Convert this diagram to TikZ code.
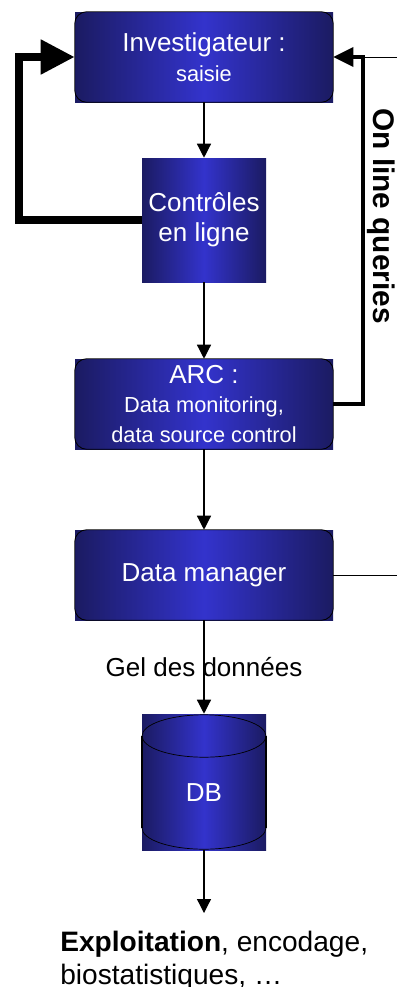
\documentclass[tikz,border=0pt]{standalone}
\usepackage{fontspec}
\setmainfont{Liberation Sans}
\usepackage{xcolor}
\definecolor{navyedge}{HTML}{1B1B62}
\definecolor{navymid}{HTML}{3333CC}
\usetikzlibrary{arrows.meta,positioning,calc}
\newcommand{\subtxt}{\fontsize{15.5}{19.2}\selectfont}

\begin{document}
\begin{tikzpicture}[x=1cm, y=1cm, font=\fontsize{18.5}{21.3}\selectfont,
  bluefill/.style={left color=navyedge, right color=navyedge, middle color=navymid,
    text=white, align=center, inner sep=0pt},
  wide/.style={bluefill, minimum width=6.45cm, minimum height=2.25cm},
  arr/.style={-{Triangle[length=0.35cm, width=0.35cm]}, line width=0.9pt}]
\useasboundingbox (0,0) rectangle (9.925,-24.675);

% boxes
\node[wide] (inv) at (5.1,-1.425) {Investigateur :\\\subtxt saisie};
\node[bluefill, minimum size=3.1cm] (ctl) at (5.1,-5.5) {Contrôles\\en ligne};
\node[wide] (arc) at (5.1,-10.1) {ARC :\\\subtxt Data monitoring,\\\subtxt data source control};
\node[wide] (dm) at (5.1,-14.375) {Data manager};
\node[bluefill, minimum width=3.1cm, minimum height=3.4cm, text height=27.5pt, text depth=0pt]
  (db) at (5.1,-19.55) {DB};
\foreach \n in {inv,arc,dm}
  \draw[line width=0.6pt, rounded corners=0.3cm] (\n.south west) rectangle (\n.north east);

% cylinder
\draw[line width=0.5pt] (5.1,-18.4) ellipse [x radius=1.55, y radius=0.53];
\draw[line width=1.2pt] (3.55,-18.4) -- (3.55,-20.7) (6.65,-18.4) -- (6.65,-20.7);
\draw[line width=0.5pt] (3.55,-20.7) arc[start angle=180, end angle=360, x radius=1.55, y radius=0.53];

% main flow
\coordinate (out) at (5.1,-22.825);
\draw[arr] (inv) -- (ctl);
\draw[arr] (ctl) -- (arc);
\draw[arr] (arc) -- (dm);
\draw[arr] (dm) -- node (gel) {Gel des données} (db);
\draw[arr] (db) -- (out);
\node[anchor=north west, align=left, inner sep=0pt, font=\fontsize{20}{23.4}\selectfont] (expl)
  at (1.5,-23.27) {\textbf{Exploitation}, encodage,\\biostatistiques, …};

% feedback loops
\coordinate (loopL) at (0.475,-1.425);
\draw[line width=0.2cm, -{Triangle[length=0.85cm, width=0.825cm]}] (ctl.west) -| (loopL) -- (inv.west);
\coordinate (qR) at (9.075,-1.425);
\coordinate (qEnd) at (9.925,-1.425);
\coordinate (dmEnd) at (9.925,-14.375);
\draw[line width=2.5pt, -{Triangle[length=0.5cm, width=0.475cm]}] (arc.east) -| (qR) -- (inv.east);
\draw[line width=0.7pt] (qR) -- (qEnd);
\draw[line width=0.7pt] (dm) -- (dmEnd);
\node[rotate=-90, anchor=base, font=\fontsize{21.2}{24}\selectfont\bfseries] (olq)
  at (9.325,-5.4) {On line queries};
\end{tikzpicture}
\end{document}
